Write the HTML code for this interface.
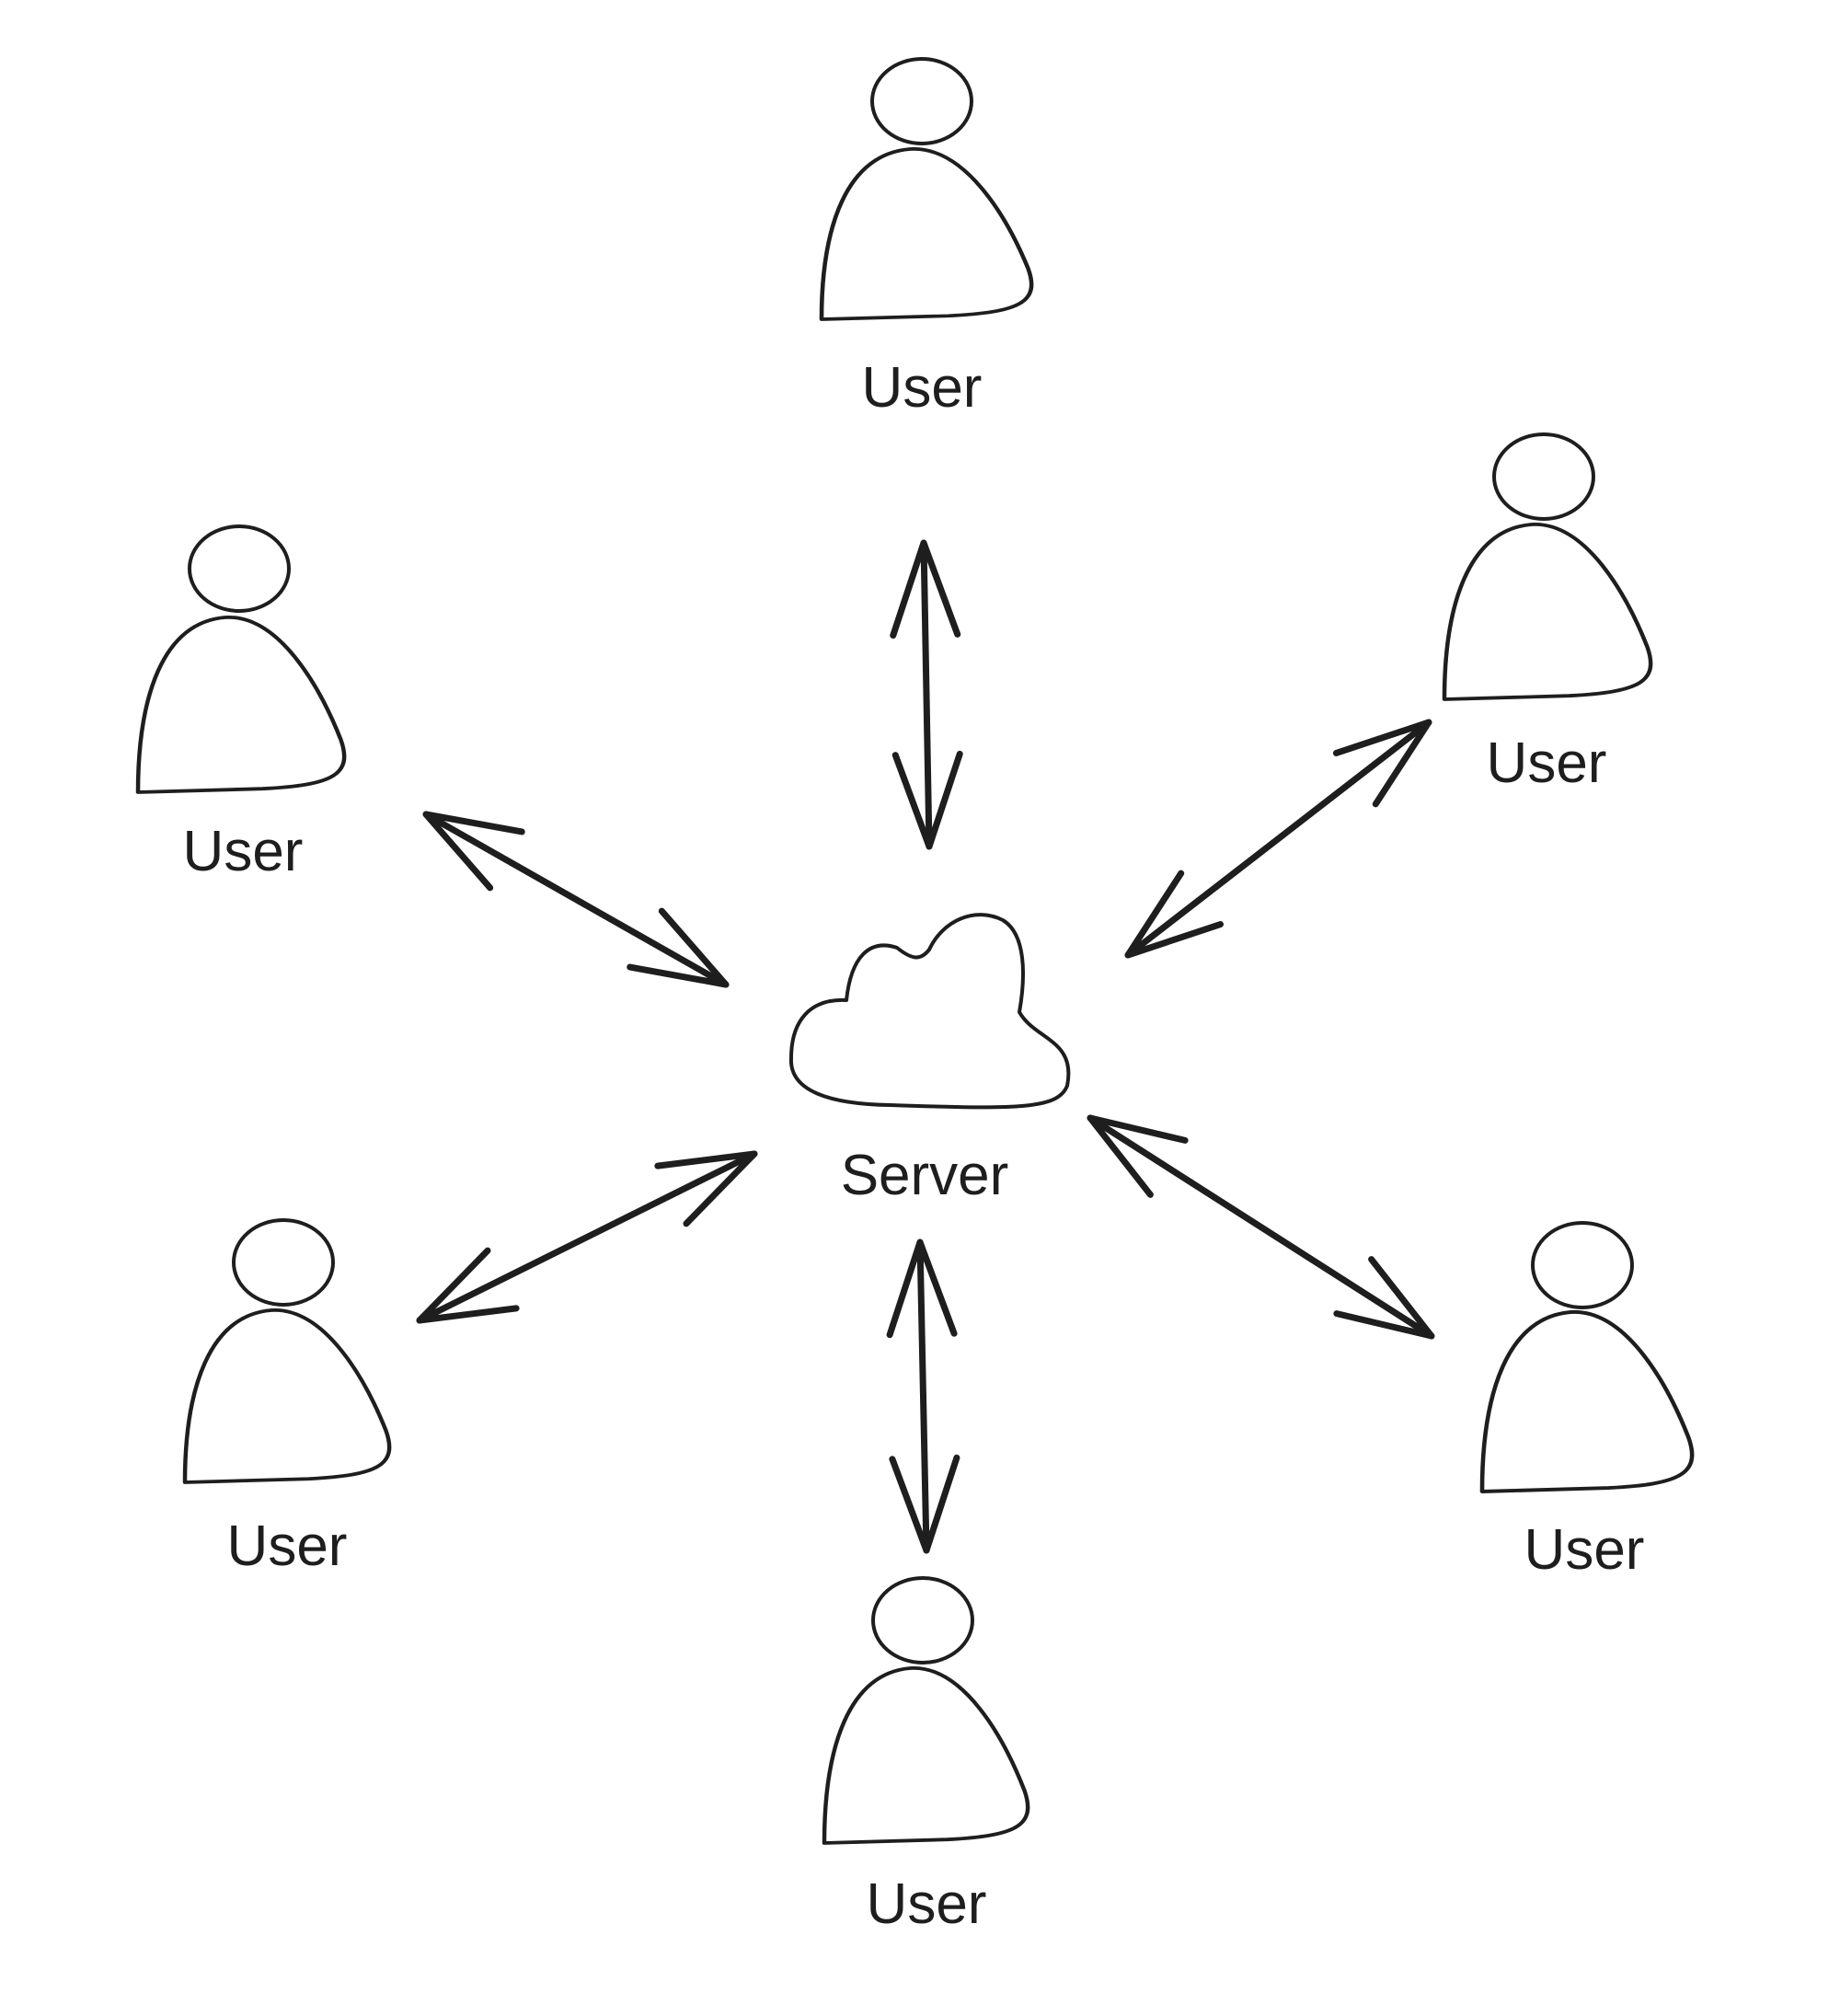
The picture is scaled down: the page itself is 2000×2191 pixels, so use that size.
<!DOCTYPE html>
<html><head><meta charset="utf-8"><style>
html,body{margin:0;padding:0;background:#fff;}
svg{display:block}
text{font-family:"Liberation Sans",sans-serif;font-size:62px;fill:#1e1e1e;text-anchor:middle}
</style></head><body>
<svg width="2000" height="2191" viewBox="0 0 2000 2191" xmlns="http://www.w3.org/2000/svg">
<defs>
<path id="body" d="M0,100 C0,45 12,3 42,0 C68,-2 88,40 98,70 C104,90 94,96 60,98 L0,100 Z"/>
<path id="ah" d="M-35,-100 L0,0 L35,-100" />
</defs>
<g fill="none" stroke="#1e1e1e" stroke-width="4" stroke-linejoin="round" stroke-linecap="round">
 <ellipse cx="1002" cy="110" rx="54" ry="46"/>
 <use href="#body" transform="translate(893,162) scale(2.29,1.85)" stroke-width="2"/>
 <ellipse cx="1678" cy="518" rx="54" ry="46"/>
 <use href="#body" transform="translate(1570,570) scale(2.25,1.9)" stroke-width="2"/>
 <ellipse cx="260" cy="618" rx="54" ry="46"/>
 <use href="#body" transform="translate(150,671) scale(2.25,1.9)" stroke-width="2"/>
 <ellipse cx="308" cy="1372" rx="54" ry="46"/>
 <use href="#body" transform="translate(201,1424) scale(2.23,1.87)" stroke-width="2"/>
 <ellipse cx="1720" cy="1375" rx="54" ry="46"/>
 <use href="#body" transform="translate(1611,1426) scale(2.29,1.95)" stroke-width="2"/>
 <ellipse cx="1003" cy="1761" rx="54" ry="46"/>
 <use href="#body" transform="translate(896,1813) scale(2.22,1.9)" stroke-width="2"/>
 <path d="M968,1201 C900,1200 858,1185 860,1150 C860,1110 880,1085 920,1087 C925,1040 945,1020 975,1030 C990,1042 1000,1045 1010,1032 C1025,1000 1060,985 1090,1000 C1115,1015 1115,1060 1108,1100 C1125,1130 1170,1130 1160,1180 C1150,1205 1110,1206 968,1201 Z"/>
</g>
<g fill="none" stroke="#1e1e1e" stroke-width="7" stroke-linecap="round" stroke-linejoin="round">
 <line x1="1004" y1="590" x2="1010" y2="920"/>
 <line x1="1553" y1="785" x2="1226" y2="1038"/>
 <line x1="463" y1="885" x2="789" y2="1070"/>
 <line x1="820" y1="1254" x2="456" y2="1435"/>
 <line x1="1000" y1="1350" x2="1007" y2="1685"/>
 <line x1="1185" y1="1215" x2="1556" y2="1452"/>
 <use href="#ah" transform="translate(1004,590) rotate(179)"/>
 <use href="#ah" transform="translate(1010,920) rotate(-1)"/>
 <use href="#ah" transform="translate(1553,785) rotate(-127.7)"/>
 <use href="#ah" transform="translate(1226,1038) rotate(52.3)"/>
 <use href="#ah" transform="translate(463,885) rotate(119.6)"/>
 <use href="#ah" transform="translate(789,1070) rotate(-60.4)"/>
 <use href="#ah" transform="translate(820,1254) rotate(-116.4)"/>
 <use href="#ah" transform="translate(456,1435) rotate(63.6)"/>
 <use href="#ah" transform="translate(1000,1350) rotate(178.8)"/>
 <use href="#ah" transform="translate(1007,1685) rotate(-1.2)"/>
 <use href="#ah" transform="translate(1185,1215) rotate(122.6)"/>
 <use href="#ah" transform="translate(1556,1452) rotate(-57.4)"/>
</g>
<text x="1002" y="442">User</text>
<text x="1681" y="850">User</text>
<text x="264" y="946">User</text>
<text x="312" y="1701">User</text>
<text x="1722" y="1705">User</text>
<text x="1007" y="2090">User</text>
<text x="1005" y="1298">Server</text>
</svg>
</body></html>
